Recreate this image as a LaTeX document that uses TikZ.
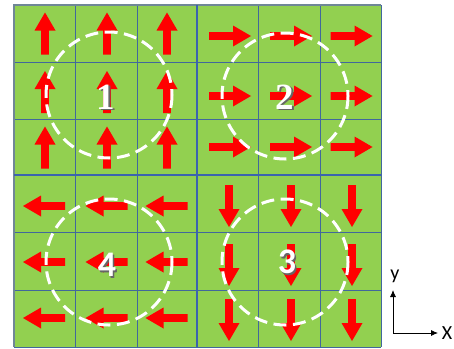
\documentclass[tikz,border=0pt]{standalone}
\usepackage{fontspec}
\newfontfamily\axisfont{Carlito}
\newfontfamily\serifnum{Liberation Serif}
\newfontfamily\sansnum{Carlito}
\definecolor{cellgreen}{HTML}{92D050}
\definecolor{thinline}{HTML}{41689C}
\definecolor{thickline}{HTML}{3B64AE}
\definecolor{outerline}{HTML}{6F8796}
\definecolor{arrowred}{HTML}{FF0000}
\usetikzlibrary{arrows.meta}
\tikzset{
  blockarrow/.pic={\fill[arrowred] (-21,-3.8) -- (3,-3.8) -- (3,-10.5) -- (21,0) -- (3,10.5) -- (3,3.8) -- (-21,3.8) -- cycle;},
  vortex/.style={draw=white, line width=3pt, dash pattern=on 13pt off 6.5pt},
  numlabel/.style={text=white, inner sep=0pt},
  numshadow/.style={text=black!60, inner sep=0pt},
  serifbig/.style={font=\serifnum\bfseries\fontsize{37}{37}\selectfont},
  sansbig/.style={font=\sansnum\bfseries\fontsize{36}{36}\selectfont},
  gridthin/.style={draw=thinline, line width=0.9pt},
  gridthick/.style={draw=thickline, line width=2.8pt},
  axisline/.style={draw=black, line width=0.8pt, -{Latex[length=7pt,width=6pt]}},
}
\begin{document}
\begin{tikzpicture}[x=1pt,y=-1pt]
\useasboundingbox (0,0) rectangle (454,348);
% background cells
\fill[cellgreen] (14,5) rectangle (381,347);
% thin grid lines
\foreach \gx in {75,137,258,320} {\draw[gridthin] (\gx,5) -- (\gx,347);}
\foreach \gy in {62,119,232,290} {\draw[gridthin] (14,\gy) -- (381,\gy);}
\draw[gridthin] (381,5) -- (381,347);
\draw[gridthin] (14,347) -- (381,347);
% outer border left/top
\draw[draw=outerline, line width=1.6pt] (14,347) -- (14,5) -- (381,5);
% thick dividers
\draw[gridthick] (197,5) -- (197,347);
\draw[gridthick] (14,175) -- (381,175);
% block 1: up arrows
\foreach \ax in {45,107,167} {
  \foreach \ay in {33.5,92,147.5} {
    \pic[rotate=90] at (\ax,\ay) {blockarrow};
  }
}
% block 2: right arrows
\foreach \ax in {230,291,351.5} {
  \foreach \ay in {36,96,147} {
    \pic at (\ax,\ay) {blockarrow};
  }
}
% block 4: left arrows
\foreach \ax in {44,106.5,166.5} {
  \foreach \ay in {206,262,318} {
    \pic[rotate=180] at (\ax,\ay) {blockarrow};
  }
}
% block 3: down arrows
\foreach \ax in {229,291,352} {
  \foreach \ay in {206,265,320} {
    \pic[rotate=-90] at (\ax,\ay) {blockarrow};
  }
}
% dashed circles
\draw[vortex] (109,95) circle[radius=63];
\draw[vortex] (285,96) circle[radius=63];
\draw[vortex] (109,262) circle[radius=63];
\draw[vortex] (285,262) circle[radius=63];
% number labels
\node[numshadow, serifbig] at (107.5,98.5) {1};
\node[numlabel, serifbig] (n1) at (106,97) {1};
\node[numshadow, serifbig] at (286.5,98.5) {2};
\node[numlabel, serifbig] (n2) at (285,97) {2};
\node[numshadow, sansbig] at (288.5,263.5) {3};
\node[numlabel, sansbig] (n3) at (287,262) {3};
\node[numshadow, sansbig] at (108.5,266.5) {4};
\node[numlabel, sansbig] (n4) at (107,265) {4};
% axes
\coordinate (o) at (393,333);
\coordinate (ytip) at (393,290);
\coordinate (xtip) at (438,333);
\draw[axisline] (o) -- (ytip);
\draw[axisline] (o) -- (xtip);
\node[font=\axisfont\fontsize{20}{20}\selectfont, inner sep=0pt] (ylab) at (395,276) {y};
\node[font=\axisfont\fontsize{20}{20}\selectfont, inner sep=0pt] (xlab) at (447,333) {X};
\end{tikzpicture}
\end{document}
